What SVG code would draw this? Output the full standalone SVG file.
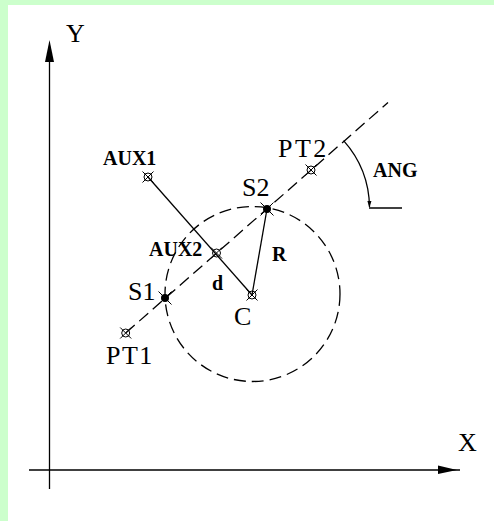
<svg xmlns="http://www.w3.org/2000/svg" width="494" height="521" viewBox="0 0 494 521">
<style>
.ln{stroke:#000;stroke-width:1.3;fill:none}
.dash{stroke:#000;stroke-width:1.3;fill:none;stroke-dasharray:12 6}
.big{font-family:"Liberation Serif","Times New Roman",serif;font-size:26px;fill:#000}
.sm{font-family:"Liberation Serif","Times New Roman",serif;font-size:20px;font-weight:bold;fill:#000}
.pt{stroke:#000;stroke-width:1;fill:none}
</style>
<defs>
<g id="mk"><circle r="4" class="pt"/><path d="M-5.5,-5.5L5.5,5.5M-5.5,5.5L5.5,-5.5" class="pt"/></g>
<g id="mkf"><circle r="4" fill="#000"/><path d="M-6.5,-6.5L6.5,6.5M-6.5,6.5L6.5,-6.5" class="pt"/></g>
<marker id="ah" viewBox="0 0 10 10" refX="9" refY="5" markerWidth="7" markerHeight="9" orient="auto" markerUnits="userSpaceOnUse"><path d="M0,2L10,5L0,8z" fill="#000"/></marker>
</defs>
<rect width="494" height="521" fill="#fff"/>
<rect x="0" y="0" width="494" height="5" fill="#ccffcc"/>
<rect x="0" y="0" width="8" height="521" fill="#ccffcc"/>
<g id="axes">
<line x1="49.5" y1="58" x2="49.5" y2="489" class="ln"/>
<polygon points="49.5,40 45,62 54,62" fill="#000"/>
<line x1="29" y1="470" x2="460" y2="470" class="ln"/>
<polygon points="438,465.5 438,474 457,470" fill="#000"/>
<text class="big" x="66" y="42">Y</text>
<text class="big" x="458" y="451">X</text>
</g>
<g id="connectors">
<line x1="125.7" y1="333" x2="388" y2="102.5" class="dash"/>
<circle cx="252.5" cy="294" r="87.5" class="dash" stroke-dasharray="14 6"/>
<line x1="148" y1="177" x2="252" y2="295" class="ln"/>
<line x1="267" y1="209" x2="252" y2="295" class="ln"/>
<path d="M343.6,140.6 A102,102 0 0 1 369.5,207" class="ln" marker-end="url(#ah)"/>
<line x1="369" y1="208" x2="402" y2="208" class="ln"/>
</g>
<g id="AUX1"><use href="#mk" x="148" y="177"/><text class="sm" x="103" y="165">AUX1</text></g>
<g id="AUX2"><use href="#mk" x="216.5" y="253"/><text class="sm" x="149" y="256">AUX2</text></g>
<g id="PT1"><use href="#mk" x="125.7" y="333"/><text class="big" x="106" y="364" letter-spacing="1.5">PT1</text></g>
<g id="PT2"><use href="#mk" x="311" y="170"/><text class="big" x="278" y="157" letter-spacing="2.5">PT2</text></g>
<g id="S1"><use href="#mkf" x="165" y="298"/><text class="big" x="128" y="300">S1</text></g>
<g id="S2"><use href="#mkf" x="267" y="209"/><text class="big" x="242" y="196">S2</text></g>
<g id="C"><use href="#mk" x="252" y="295"/><text class="big" x="234" y="325">C</text></g>
<g id="R"><text class="sm" x="272" y="261">R</text></g>
<g id="d"><text class="sm" x="212" y="290">d</text></g>
<g id="ANG"><text class="sm" x="373" y="177">ANG</text></g>
</svg>
